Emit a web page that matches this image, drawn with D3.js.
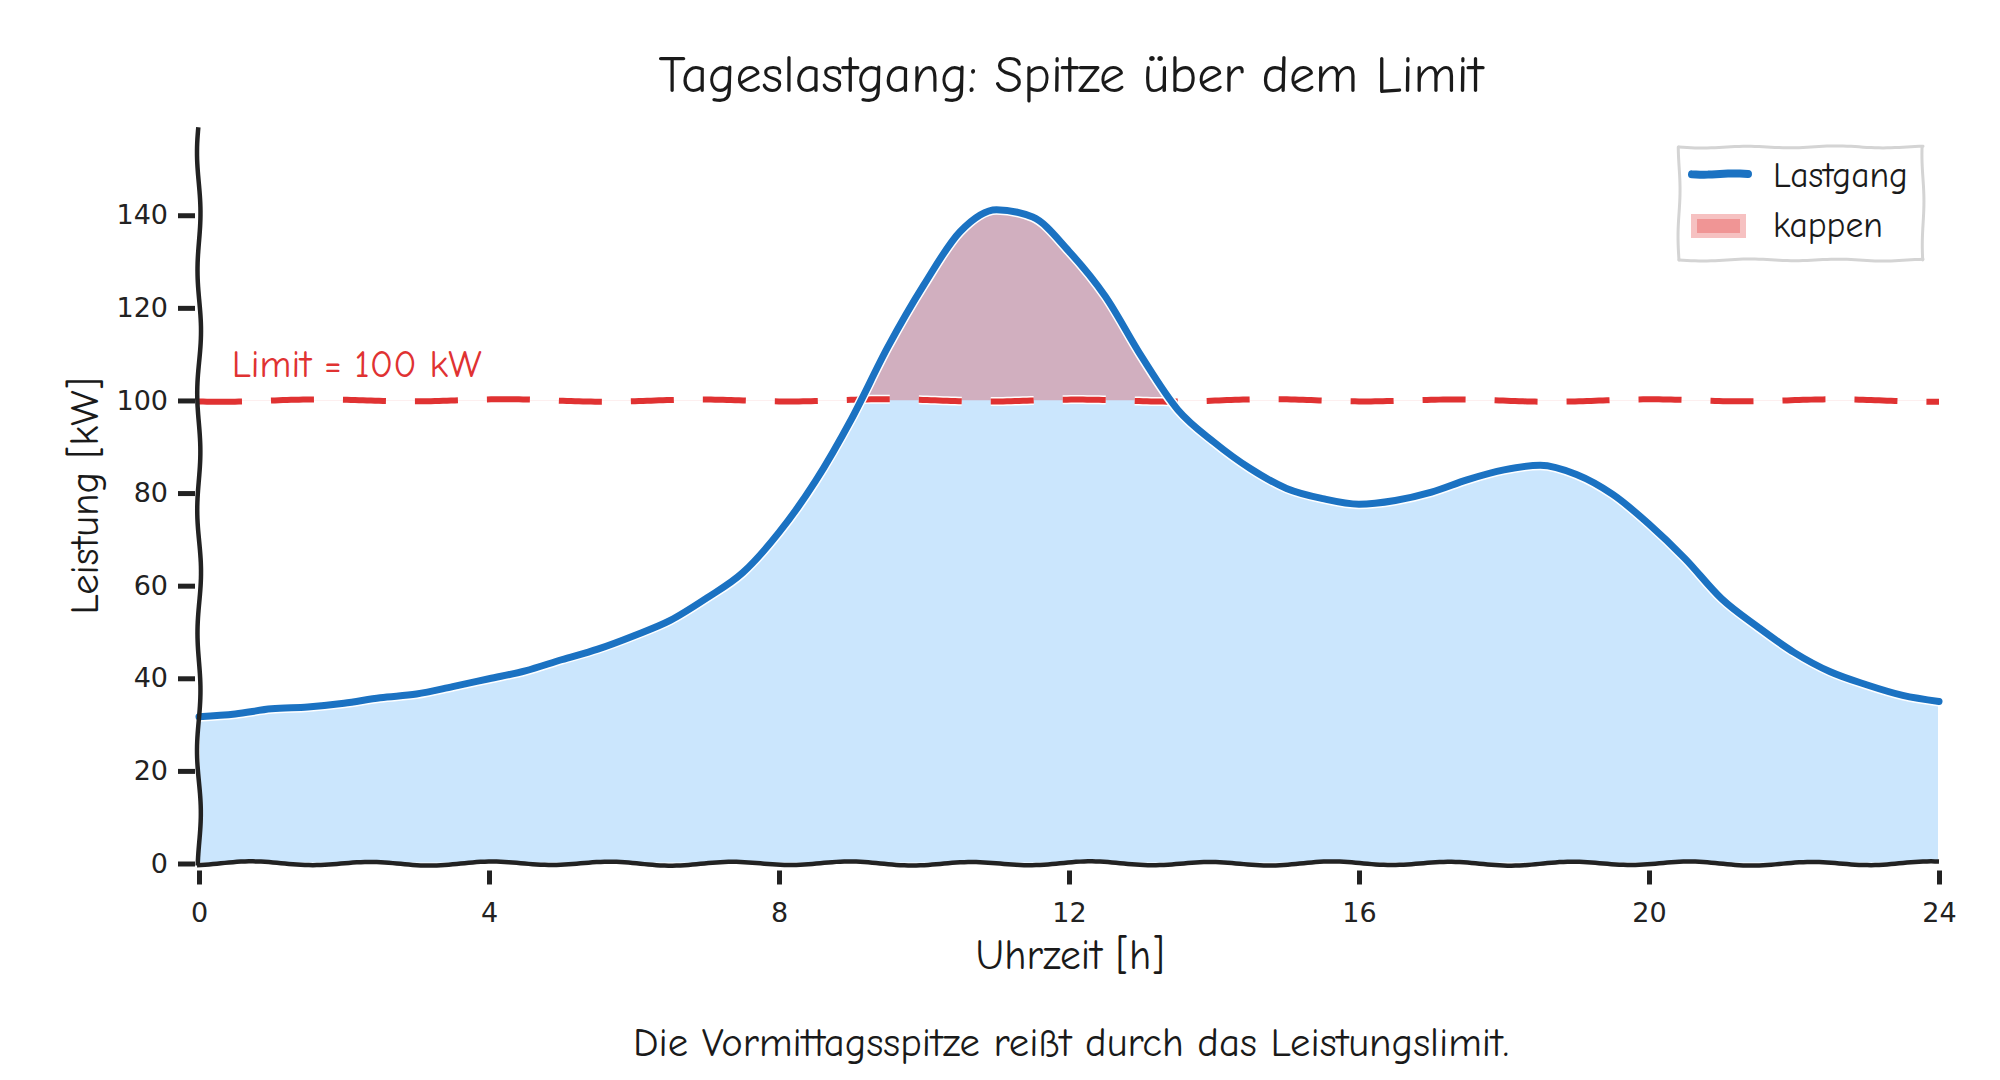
<!DOCTYPE html>
<html>
<head>
<meta charset="utf-8">
<script src="https://cdn.jsdelivr.net/npm/d3@7"></script>
<style>
  body { margin: 0; background: #fff; }
  svg { display: block; }
  text { font-family: "Humor Sans", "Comic Neue", "Comic Sans MS", Lato, sans-serif; fill: #1a1a1a; }
  .tick text { font-family: "DejaVu Sans", sans-serif; }
</style>
</head>
<body>
<svg id="chart"></svg>
<script>
// Daily load profile, half-hour steps (kW)
var hours = [0, 0.5, 1, 1.5, 2, 2.5, 3, 3.5, 4, 4.5, 5, 5.5, 6, 6.5, 7, 7.5, 8, 8.5,
    9, 9.5, 10, 10.5, 11, 11.5, 12, 12.5, 13, 13.5, 14, 14.5, 15, 15.5, 16, 16.5,
    17, 17.5, 18, 18.5, 19, 19.5, 20, 20.5, 21, 21.5, 22, 22.5, 23, 23.5, 24];
var lastgang = [31.7, 32.3, 33.4, 33.8, 34.6, 35.8, 36.6, 38.2, 39.9, 41.6, 44.0, 46.3,
    49.2, 52.5, 57.3, 62.8, 71.5, 82.5, 96.0, 111.5, 125.0, 136.5, 141.2, 139.6,
    132.2, 122.5, 109.5, 98.0, 91.0, 85.3, 81.0, 78.8, 77.6, 78.4, 80.2, 82.9,
    85.0, 86.0, 84.0, 79.7, 73.3, 65.8, 57.2, 51.1, 45.6, 41.4, 38.6, 36.3, 35.0];
var limit = 100;
var xTicks = [0, 4, 8, 12, 16, 20, 24];
var yTicks = [0, 20, 40, 60, 80, 100, 120, 140];
var legendLabels = ["Lastgang", "kappen"];

var title = "Tageslastgang: Spitze über dem Limit";
var subtitle = "Die Vormittagsspitze reißt durch das Leistungslimit.";
var xLabel = "Uhrzeit [h]";
var yLabel = "Leistung [kW]";
var limitLabel = "Limit = " + limit + " kW";

var blue = "#1b72c2", lightBlue = "#cbe6fd", red = "#e03232", ink = "#222";

var width = 2000, height = 1080;
var x = d3.scaleLinear().domain([0, 24]).range([199, 1939]);
var y = d3.scaleLinear().domain([0, 161]).range([863.5, 118]);

var svg = d3.select("#chart")
    .attr("width", width)
    .attr("height", height);

var data = hours.map(function (h, i) {
    return { h: h, v: lastgang[i] };
});

// hand drawn look: a straight segment with a gentle wobble
function wiggle(x0, y0, x1, y1, amp, period, phase) {
    var len = Math.hypot(x1 - x0, y1 - y0),
        n = Math.ceil(len / 4),
        nx = -(y1 - y0) / len,
        ny = (x1 - x0) / len,
        pts = [];
    for (var i = 0; i <= n; i++) {
        var t = i / n, s = t * len;
        var o = amp * Math.sin(2 * Math.PI * s / period + phase) +
            amp * 0.2 * Math.sin(2 * Math.PI * s / (period * 2.3) + phase * 1.7);
        pts.push([x0 + (x1 - x0) * t + nx * o, y0 + (y1 - y0) * t + ny * o]);
    }
    return d3.line()(pts);
}

// scale a text so it fills a measured width
function fit(sel, target) {
    var base = 40;
    sel.style("font-size", base + "px");
    var w = sel.node().getComputedTextLength();
    sel.style("font-size", (base * target / w) + "px");
    return sel;
}

var area = d3.area()
    .x(function (d) { return x(d.h); })
    .y0(y(0))
    .y1(function (d) { return y(d.v); })
    .curve(d3.curveMonotoneX);

var line = d3.line()
    .x(function (d) { return x(d.h); })
    .y(function (d) { return y(d.v); })
    .curve(d3.curveMonotoneX);

// light blue fill under the profile
svg.append("path")
    .datum(data)
    .attr("d", area)
    .attr("fill", lightBlue)
    .attr("stroke", "#fff")
    .attr("stroke-width", 2);

// part above the limit
svg.append("clipPath")
    .attr("id", "above")
    .append("rect")
    .attr("x", x(0))
    .attr("y", 0)
    .attr("width", x(24) - x(0))
    .attr("height", y(limit));

svg.append("path")
    .datum(data)
    .attr("clip-path", "url(#above)")
    .attr("d", area.y0(y(limit)))
    .attr("fill", red)
    .attr("fill-opacity", 0.3);

// limit line
var limitPath = wiggle(x(0), y(limit), x(24), y(limit), 1.1, 190, 0.8);
svg.append("path")
    .attr("d", limitPath)
    .attr("fill", "none")
    .attr("stroke", "#fff")
    .attr("stroke-width", 9)
    .attr("stroke-dasharray", "43,29");
svg.append("path")
    .attr("d", limitPath)
    .attr("fill", "none")
    .attr("stroke", red)
    .attr("stroke-width", 6)
    .attr("stroke-dasharray", "43,29");

fit(svg.append("text")
    .attr("x", x(0.45))
    .attr("y", 377)
    .style("fill", red)
    .text(limitLabel), 250);

// the profile line
svg.append("path")
    .datum(data)
    .attr("d", line)
    .attr("fill", "none")
    .attr("stroke", "#fff")
    .attr("stroke-width", 10)
    .attr("stroke-linejoin", "round");
svg.append("path")
    .datum(data)
    .attr("d", line)
    .attr("fill", "none")
    .attr("stroke", blue)
    .attr("stroke-width", 7)
    .attr("stroke-linejoin", "round")
    .attr("stroke-linecap", "round");

// axes
var xAxis = svg.append("g")
    .attr("transform", "translate(0," + y(0) + ")")
    .call(d3.axisBottom(x).tickValues(xTicks).tickSize(21).tickPadding(18));
var yAxis = svg.append("g")
    .attr("transform", "translate(" + x(0) + ",0)")
    .call(d3.axisLeft(y).tickValues(yTicks).tickSize(21).tickPadding(10));

[xAxis, yAxis].forEach(function (g) {
    g.select(".domain").remove();
    g.selectAll(".tick line").attr("stroke", ink).attr("stroke-width", 5);
    g.selectAll(".tick text").style("font-size", "27px").style("fill", ink);
});
xAxis.selectAll(".tick line").attr("y1", 7);
yAxis.selectAll(".tick line").attr("x1", -4);

// wobbly spines
svg.append("path")
    .attr("d", wiggle(x(0), y(159), x(0), y(0) + 2, 1.7, 120, 0.3))
    .attr("fill", "none")
    .attr("stroke", ink)
    .attr("stroke-width", 4.5);
svg.append("path")
    .attr("d", wiggle(x(0) - 2, y(0), x(24), y(0), 1.8, 120, 1.9))
    .attr("fill", "none")
    .attr("stroke", ink)
    .attr("stroke-width", 4.5);

// texts
fit(svg.append("text")
    .attr("x", 1071)
    .attr("y", 92)
    .attr("text-anchor", "middle")
    .text(title), 825);

fit(svg.append("text")
    .attr("x", 1070)
    .attr("y", 969)
    .attr("text-anchor", "middle")
    .text(xLabel), 189);

fit(svg.append("text")
    .attr("transform", "translate(98,496) rotate(-90)")
    .attr("text-anchor", "middle")
    .text(yLabel), 237);

fit(svg.append("text")
    .attr("x", 1071)
    .attr("y", 1056)
    .attr("text-anchor", "middle")
    .text(subtitle), 876);

// legend
var legend = svg.append("g");
var lx0 = 1679, lx1 = 1923, ly0 = 147, ly1 = 260;
legend.append("rect")
    .attr("x", lx0).attr("y", ly0)
    .attr("width", lx1 - lx0).attr("height", ly1 - ly0)
    .attr("rx", 6)
    .attr("fill", "#fff");
[[lx0, ly0, lx1, ly0], [lx1, ly0, lx1, ly1], [lx1, ly1, lx0, ly1], [lx0, ly1, lx0, ly0]]
    .forEach(function (s, i) {
        legend.append("path")
            .attr("d", wiggle(s[0], s[1], s[2], s[3], 0.9, 90, i))
            .attr("fill", "none")
            .attr("stroke", "#d4d4d4")
            .attr("stroke-width", 3)
            .attr("stroke-linecap", "round");
    });

legend.append("path")
    .attr("d", wiggle(1692, 174, 1748, 174, 0.6, 60, 0.5))
    .attr("fill", "none")
    .attr("stroke", blue)
    .attr("stroke-width", 8)
    .attr("stroke-linecap", "round");

legend.append("rect")
    .attr("x", 1691).attr("y", 214)
    .attr("width", 55).attr("height", 24)
    .attr("fill", red).attr("fill-opacity", 0.3);
legend.append("rect")
    .attr("x", 1697).attr("y", 219)
    .attr("width", 43).attr("height", 14)
    .attr("fill", red).attr("fill-opacity", 0.3);

var t1 = fit(legend.append("text")
    .attr("x", 1773)
    .attr("y", 187)
    .text(legendLabels[0]), 135);
legend.append("text")
    .attr("x", 1773)
    .attr("y", 237)
    .style("font-size", t1.style("font-size"))
    .text(legendLabels[1]);
</script>
</body>
</html>
